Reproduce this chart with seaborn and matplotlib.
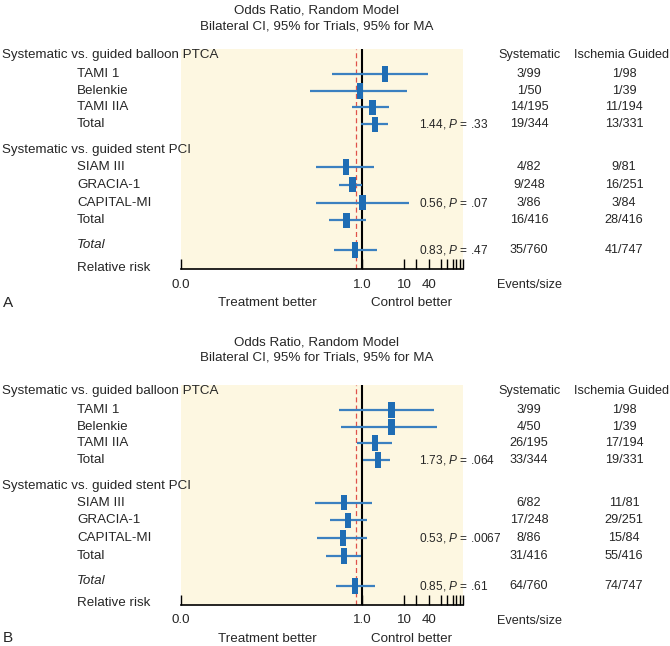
import matplotlib
matplotlib.use("Agg")
import matplotlib.pyplot as plt
import matplotlib.transforms as mtransforms
import pandas as pd
import seaborn as sns

# ---------------------------------------------------------------------------
# DATA
# ---------------------------------------------------------------------------
studies = ["TAMI 1", "Belenkie", "TAMI IIA", "Total",
           "SIAM III", "GRACIA-1", "CAPITAL-MI", "Total", "Total"]
group_headers = ["Systematic vs. guided balloon PTCA",
                 "Systematic vs. guided stent PCI"]

# panel A
or_a = [3.5, 0.87, 1.76, 2.0, 0.40, 0.58, 1.0, 0.42, 0.66]
lo_a = [0.19, 0.056, 0.57, 0.90, 0.076, 0.27, 0.076, 0.16, 0.21]
hi_a = [37, 12, 4.4, 4.05, 1.93, 1.0, 13.4, 1.2, 2.3]
sys_a = ["3/99", "1/50", "14/195", "19/344", "4/82", "9/248", "3/86", "16/416", "35/760"]
isch_a = ["1/98", "1/39", "11/194", "13/331", "9/81", "16/251", "3/84", "28/416", "41/747"]
notes_a = ["1.44, $P$ = .33", "0.56, $P$ = .07", "0.83, $P$ = .47"]

# panel B
or_b = [5.06, 5.06, 2.0, 2.4, 0.36, 0.45, 0.34, 0.36, 0.67]
lo_b = [0.27, 0.30, 0.75, 1.05, 0.074, 0.165, 0.082, 0.13, 0.23]
hi_b = [54, 63, 5.06, 4.6, 1.67, 1.3, 1.3, 0.90, 2.0]
sys_b = ["3/99", "4/50", "26/195", "33/344", "6/82", "17/248", "8/86", "31/416", "64/760"]
isch_b = ["1/98", "1/39", "17/194", "19/331", "11/81", "29/251", "15/84", "55/416", "74/747"]
notes_b = ["1.73, $P$ = .064", "0.53, $P$ = .0067", "0.85, $P$ = .61"]

pooled_line = 0.72          # red dashed reference
note_rows = [3, 6, 8]       # rows that carry the pooled OR / P text

# ---------------------------------------------------------------------------
# LAYOUT
# ---------------------------------------------------------------------------
sns.set_theme(style="white")
plt.rcParams["font.family"] = ["Liberation Sans", "DejaVu Sans"]
plt.rcParams["mathtext.fontset"] = "custom"
plt.rcParams["mathtext.rm"] = "Liberation Sans"
plt.rcParams["mathtext.it"] = "Liberation Sans:italic"

row_y = [0, 1, 1.95, 2.95, 5.45, 6.5, 7.55, 8.6, 10.35]
header_y = [-1.12, 4.45]
y_top, y_bot = -1.46, 11.45
PX = 1 / 17.0                 # one pixel in row units

FS = 9.6
FS_COL = 9.1
BLUE_BOX = "#1f6db4"
BLUE_LINE = "#3b80c0"
CREAM = "#fdf7e1"

box = [(-0.42, -1), (0.42, -1), (0.42, 1), (-0.42, 1), (-0.42, -1)]

fig = plt.figure(figsize=(6.7, 6.46), dpi=100)


def panel(bottom, ors, los, his, sys_ev, isch_ev, notes, letter, title_off):
    ax = fig.add_axes([180.7 / 670, bottom, 282.3 / 670, (y_bot - y_top) * 17 / 646])
    ax.set_facecolor(CREAM)
    ax.set_xscale("log")
    ax.set_xlim(4.2e-5, 265)
    ax.set_ylim(y_bot, y_top)

    ax.axvline(1.0, color="black", lw=1.5, zorder=2)
    ax.axvline(pooled_line, color="#e0524a", lw=0.9, ls=(0, (4, 2.5)), zorder=2)

    df = pd.DataFrame({"study": studies, "or": ors, "lo": los, "hi": his, "y": row_y})
    ax.hlines(df["y"], df["lo"], df["hi"], color=BLUE_LINE, lw=1.6, zorder=3)
    sns.scatterplot(data=df, x="or", y="y", marker=box, s=125, color=BLUE_BOX,
                    edgecolor="none", linewidth=0, zorder=4, ax=ax, legend=False)

    # axis decoration
    for side in ["left", "right", "top"]:
        ax.spines[side].set_visible(False)
    ax.spines["bottom"].set_color("black")
    ax.spines["bottom"].set_linewidth(1.2)
    ticks = [4.2e-5, 1, 10, 20, 40, 80, 110, 150, 180, 220, 265]
    labels = ["0.0", "1.0", "10", "", "40", "", "", "", "", "", ""]
    ax.set_xticks(ticks)
    ax.set_xticklabels(labels, fontsize=FS)
    ax.minorticks_off()
    ax.tick_params(axis="x", direction="in", length=7, width=1, color="black",
                   pad=7, bottom=True)
    ax.set_yticks([])
    ax.set_xlabel("")
    ax.set_ylabel("")

    # text laid out in figure-x / data-y
    tr = mtransforms.blended_transform_factory(fig.transFigure, ax.transData)
    kw = dict(transform=tr, fontsize=FS, va="center", clip_on=False)
    kc = dict(transform=tr, fontsize=FS_COL, va="center", ha="center", clip_on=False)

    ax.text(317 / 670, y_top - title_off[0] * PX, "Odds Ratio, Random Model",
            ha="center", **kw)
    ax.text(317 / 670, y_top - title_off[1] * PX,
            "Bilateral CI, 95% for Trials, 95% for MA", ha="center", **kw)

    ax.text(2 / 670, header_y[0], group_headers[0], ha="left", **kw)
    ax.text(2 / 670, header_y[1], group_headers[1], ha="left", **kw)
    ax.text(529 / 670, header_y[0], "Systematic", **kc)
    ax.text(621 / 670, header_y[0], "Ischemia Guided", **kc)

    for i, name in enumerate(studies):
        last = i == len(studies) - 1
        ax.text(77 / 670, row_y[i] - 0.3 if last else row_y[i], name, ha="left",
                style="italic" if last else "normal", **kw)
        ax.text(529 / 670, row_y[i], sys_ev[i], **kc)
        ax.text(624 / 670, row_y[i], isch_ev[i], **kc)

    for r, note in zip(note_rows, notes):
        ax.text(419 / 670, row_y[r], note, ha="left", transform=tr, fontsize=8.6,
                va="center", clip_on=False)

    ax.text(77 / 670, y_bot - 1 * PX, "Relative risk", ha="left", **kw)
    ax.text(529 / 670, y_bot + 16 * PX, "Events/size", **kc)
    ax.text(267 / 670, y_bot + 34 * PX, "Treatment better", ha="center", **kw)
    ax.text(412 / 670, y_bot + 34 * PX, "Control better", ha="center", **kw)
    ax.text(3 / 670, y_bot + 34 * PX, letter, ha="left", transform=tr, fontsize=11,
            va="center", clip_on=False)
    return ax


panel(1 - 268.8 / 646, or_a, lo_a, hi_a, sys_a, isch_a, notes_a, "A", (39, 23))
panel(1 - 604.5 / 646, or_b, lo_b, hi_b, sys_b, isch_b, notes_b, "B", (43, 28))

fig.savefig("out.png", dpi=100, facecolor="white")
